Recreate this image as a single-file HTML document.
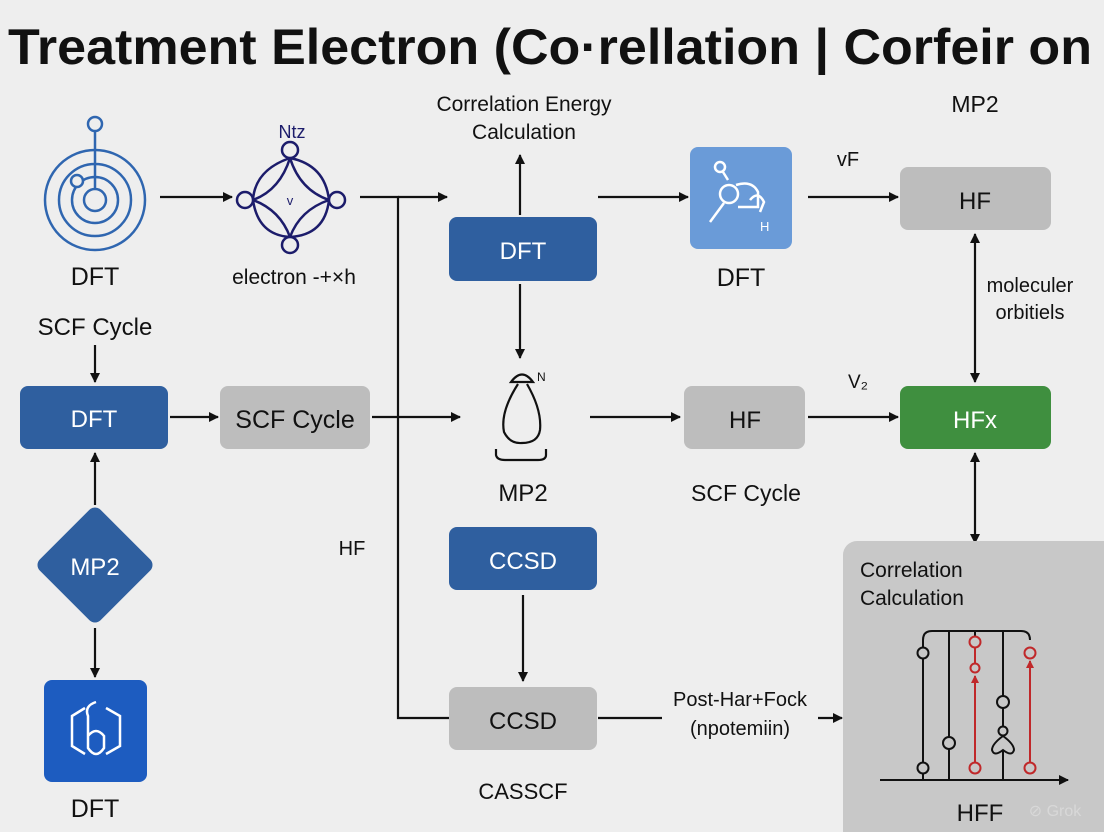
<!DOCTYPE html>
<html><head><meta charset="utf-8"><style>
html,body{margin:0;padding:0;background:#eeeeee;}
svg{display:block;font-family:"Liberation Sans",Arial,sans-serif;}
</style></head><body>
<svg width="1104" height="832" viewBox="0 0 1104 832" xmlns="http://www.w3.org/2000/svg">
<defs>
<marker id="a" markerWidth="10" markerHeight="10" refX="9" refY="5" orient="auto" markerUnits="userSpaceOnUse"><path d="M0,0 L10,5 L0,10 z" fill="#111"/></marker>
<marker id="as" markerWidth="10" markerHeight="10" refX="1" refY="5" orient="auto" markerUnits="userSpaceOnUse"><path d="M10,0 L0,5 L10,10 z" fill="#111"/></marker>
<marker id="ar" markerWidth="8" markerHeight="8" refX="7" refY="4" orient="auto" markerUnits="userSpaceOnUse"><path d="M0,0 L8,4 L0,8 z" fill="#c0282a"/></marker>
</defs>
<rect width="1104" height="832" fill="#eeeeee"/>
<text x="8" y="64" font-size="50" font-weight="bold" fill="#111" textLength="1084" lengthAdjust="spacingAndGlyphs">Treatment Electron (Co·rellation | Corfeir on</text>

<g fill="none" stroke-width="2.2" stroke="#111">
<line x1="160" y1="197" x2="232" y2="197" marker-end="url(#a)"/>
<polyline points="360,197 398,197 398,718 450,718"/>
<line x1="398" y1="197" x2="447" y2="197" marker-end="url(#a)"/>
<line x1="95" y1="345" x2="95" y2="382" marker-end="url(#a)"/>
<line x1="170" y1="417" x2="218" y2="417" marker-end="url(#a)"/>
<line x1="372" y1="417" x2="460" y2="417" marker-end="url(#a)"/>
<line x1="95" y1="505" x2="95" y2="453" marker-end="url(#a)"/>
<line x1="95" y1="628" x2="95" y2="677" marker-end="url(#a)"/>
<line x1="520" y1="215" x2="520" y2="155" marker-end="url(#a)"/>
<line x1="520" y1="284" x2="520" y2="358" marker-end="url(#a)"/>
<line x1="523" y1="595" x2="523" y2="681" marker-end="url(#a)"/>
<line x1="598" y1="718" x2="662" y2="718"/>
<line x1="818" y1="718" x2="842" y2="718" marker-end="url(#a)"/>
<line x1="598" y1="197" x2="688" y2="197" marker-end="url(#a)"/>
<line x1="808" y1="197" x2="898" y2="197" marker-end="url(#a)"/>
<line x1="590" y1="417" x2="680" y2="417" marker-end="url(#a)"/>
<line x1="808" y1="417" x2="898" y2="417" marker-end="url(#a)"/>
<line x1="975" y1="234" x2="975" y2="382" marker-start="url(#as)" marker-end="url(#a)"/>
<line x1="975" y1="453" x2="975" y2="543" marker-start="url(#as)" marker-end="url(#a)"/>
</g>

<g fill="none" stroke="#2f66b0" stroke-width="2.5">
<circle cx="95" cy="200" r="50"/><circle cx="95" cy="200" r="36"/><circle cx="95" cy="200" r="23"/><circle cx="95" cy="200" r="11"/>
<line x1="95" y1="189" x2="95" y2="131"/><circle cx="95" cy="124" r="7"/>
<circle cx="77" cy="181" r="6" fill="#eee"/>
</g>
<text x="95" y="285" font-size="25" text-anchor="middle" fill="#111">DFT</text>
<text x="95" y="335" font-size="24" text-anchor="middle" fill="#111">SCF Cycle</text>

<g fill="none" stroke="#1c1c6b" stroke-width="2.5">
<path d="M290,158 Q255,170 253,200 Q258,235 290,237 Q325,235 329,200 Q325,165 290,158 Z"/>
<path d="M290,158 Q300,190 329,200 M329,200 Q300,210 290,237 M290,237 Q280,210 253,200 M253,200 Q280,190 290,158"/>
<circle cx="290" cy="150" r="8" fill="#eee"/><circle cx="245" cy="200" r="8" fill="#eee"/><circle cx="337" cy="200" r="8" fill="#eee"/><circle cx="290" cy="245" r="8" fill="#eee"/>
</g>
<text x="292" y="138" font-size="18" text-anchor="middle" fill="#1c1c6b">Ntz</text>
<text x="290" y="205" font-size="13" text-anchor="middle" fill="#1c1c6b">v</text>
<text x="294" y="284" font-size="21" text-anchor="middle" fill="#111">electron -+×h</text>

<rect x="20" y="386" width="148" height="63" rx="8" fill="#2f5f9f"/>
<text x="94" y="427" font-size="24" text-anchor="middle" fill="#fff">DFT</text>
<rect x="220" y="386" width="150" height="63" rx="8" fill="#bdbdbd"/>
<text x="295" y="428" font-size="25" text-anchor="middle" fill="#111">SCF Cycle</text>
<rect x="52" y="522" width="86" height="86" rx="8" fill="#2f5f9f" transform="rotate(45 95 565)"/>
<text x="95" y="575" font-size="24" text-anchor="middle" fill="#fff">MP2</text>
<rect x="44" y="680" width="103" height="102" rx="8" fill="#1d5cc0"/>
<g fill="none" stroke="#fff" stroke-width="2.5">
<path d="M85,708 L72,716 L72,746 L85,754 M106,708 L120,716 L120,746 L106,754"/>
<path d="M96,702 Q84,706 88,716 L88,748 Q96,760 104,748 L104,736 Q96,726 88,736"/>
</g>
<text x="95" y="817" font-size="25" text-anchor="middle" fill="#111">DFT</text>

<text x="524" y="111" font-size="21" text-anchor="middle" fill="#111">Correlation Energy</text>
<text x="524" y="139" font-size="21" text-anchor="middle" fill="#111">Calculation</text>
<rect x="449" y="217" width="148" height="64" rx="8" fill="#2f5f9f"/>
<text x="523" y="259" font-size="24" text-anchor="middle" fill="#fff">DFT</text>
<g fill="none" stroke="#111" stroke-width="2.2">
<path d="M511,382 Q522,367 533,382 Z"/>
<path d="M518,384 Q500,412 504,432 Q510,444 522,443 Q538,443 540,430 Q542,410 527,384"/>
<path d="M496,449 L496,455 Q497,460 505,460 L538,460 Q546,460 546,455 L546,449"/>
</g>
<text x="537" y="381" font-size="12" fill="#111">N</text>
<text x="523" y="501" font-size="24" text-anchor="middle" fill="#111">MP2</text>
<text x="352" y="555" font-size="20" text-anchor="middle" fill="#111">HF</text>
<rect x="449" y="527" width="148" height="63" rx="8" fill="#2f5f9f"/>
<text x="523" y="569" font-size="24" text-anchor="middle" fill="#fff">CCSD</text>
<rect x="449" y="687" width="148" height="63" rx="8" fill="#bdbdbd"/>
<text x="523" y="729" font-size="24" text-anchor="middle" fill="#111">CCSD</text>
<text x="523" y="799" font-size="22" text-anchor="middle" fill="#111">CASSCF</text>
<text x="740" y="706" font-size="20" text-anchor="middle" fill="#111">Post-Har+Fock</text>
<text x="740" y="735" font-size="20" text-anchor="middle" fill="#111">(npotemiin)</text>

<rect x="690" y="147" width="102" height="102" rx="8" fill="#6a9bd8"/>
<g fill="none" stroke="#fff" stroke-width="2.5">
<circle cx="720" cy="167" r="5"/><line x1="723" y1="172" x2="728" y2="180"/>
<circle cx="729" cy="194" r="9"/>
<path d="M736,185 Q752,180 758,192 L758,207 L738,207"/>
<path d="M750,200 Q758,190 764,202 L760,212"/>
<line x1="724" y1="203" x2="710" y2="222"/>
</g>
<text x="760" y="231" font-size="13" fill="#fff">H</text>
<text x="741" y="286" font-size="25" text-anchor="middle" fill="#111">DFT</text>
<text x="848" y="166" font-size="20" text-anchor="middle" fill="#111">vF</text>
<text x="975" y="112" font-size="23" text-anchor="middle" fill="#111">MP2</text>
<rect x="900" y="167" width="151" height="63" rx="8" fill="#bdbdbd"/>
<text x="975" y="209" font-size="24" text-anchor="middle" fill="#111">HF</text>
<text x="1030" y="292" font-size="20" text-anchor="middle" fill="#111">moleculer</text>
<text x="1030" y="319" font-size="20" text-anchor="middle" fill="#111">orbitiels</text>

<rect x="684" y="386" width="121" height="63" rx="8" fill="#bdbdbd"/>
<text x="745" y="428" font-size="24" text-anchor="middle" fill="#111">HF</text>
<text x="746" y="501" font-size="23" text-anchor="middle" fill="#111">SCF Cycle</text>
<text x="858" y="388" font-size="19" text-anchor="middle" fill="#111">V₂</text>
<rect x="900" y="386" width="151" height="63" rx="8" fill="#3f8f3f"/>
<text x="975" y="428" font-size="24" text-anchor="middle" fill="#fff">HFx</text>

<rect x="843" y="541" width="275" height="305" rx="14" fill="#c8c8c8"/>
<text x="860" y="577" font-size="21" fill="#111">Correlation</text>
<text x="860" y="605" font-size="21" fill="#111">Calculation</text>
<g fill="none" stroke-width="2">
<line x1="880" y1="780" x2="1068" y2="780" stroke="#111" marker-end="url(#a)"/>
<path d="M923,780 L923,640 Q923,631 932,631 L1021,631 Q1030,631 1030,640" stroke="#111"/>
<line x1="949" y1="631" x2="949" y2="780" stroke="#111"/>
<line x1="1003" y1="631" x2="1003" y2="780" stroke="#111"/>
<line x1="975" y1="631" x2="975" y2="636" stroke="#111"/>
<line x1="975" y1="763" x2="975" y2="676" stroke="#c0282a" marker-end="url(#ar)"/>
<line x1="975" y1="648" x2="975" y2="663" stroke="#c0282a"/>
<line x1="1030" y1="763" x2="1030" y2="661" stroke="#c0282a" marker-end="url(#ar)"/>
<g stroke="#111" fill="#c8c8c8">
<circle cx="923" cy="653" r="5.5"/><circle cx="923" cy="768" r="5.5"/><circle cx="949" cy="743" r="6"/>
<circle cx="1003" cy="702" r="6"/><circle cx="1003" cy="731" r="4.5"/>
<path d="M1003,736 Q992,744 992,750 Q994,757 1003,750 Q1012,757 1014,750 Q1014,744 1003,736 Z"/>
</g>
<g stroke="#c0282a" fill="#c8c8c8">
<circle cx="975" cy="642" r="5.5"/><circle cx="975" cy="668" r="4.5"/><circle cx="975" cy="768" r="5.5"/>
<circle cx="1030" cy="653" r="5.5"/><circle cx="1030" cy="768" r="5.5"/>
</g>
</g>
<text x="980" y="821" font-size="24" text-anchor="middle" fill="#111">HFF</text>
<text x="1055" y="816" font-size="16" text-anchor="middle" fill="#d8d8d8">⊘ Grok</text>
</svg>
</body></html>
